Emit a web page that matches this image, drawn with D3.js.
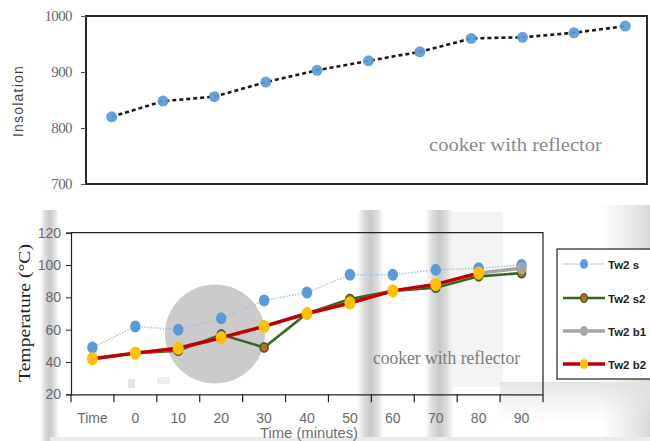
<!DOCTYPE html>
<html>
<head>
<meta charset="utf-8">
<script src="https://cdn.jsdelivr.net/npm/d3@7"></script>
<style>
  html, body { margin: 0; padding: 0; background: #fff; }
  svg { display: block; }
</style>
</head>
<body>
<svg id="chart" width="650" height="441"></svg>
<script>
// Time categories shared by both panels
const categories = ["Time", "0", "10", "20", "30", "40", "50", "60", "70", "80", "90"];

// Upper panel: solar insolation
const insolation = [820, 848, 856, 882, 903, 920, 936, 960, 962, 970, 982];
const insolationTicks = [700, 800, 900, 1000];

// Lower panel: water temperatures (°C)
const tw2s  = [49, 62, 60, 67, 78, 83, 94, 94, 97, 98, 100];
const tw2s2 = [42, 45.5, 47, 57, 49, 70, 79, 84, 86, 93, 95];
const tw2b1 = [42, 45.5, 48.5, 55, 62, 70, 76.5, 84, 88, 95, 98];
const tw2b2 = [42, 45.5, 48.5, 55, 62, 70, 76.5, 84, 88, 95, null];
const tempTicks = [20, 40, 60, 80, 100, 120];

const seriesNames = ["Tw2 s", "Tw2 s2", "Tw2 b1", "Tw2 b2"];

const svg = d3.select("#chart");

// ---------- scan haze (soft vertical grey stripes) ----------
const defs = svg.append("defs");
const grad = defs.append("linearGradient").attr("id", "stripe").attr("x1", 0).attr("x2", 1).attr("y1", 0).attr("y2", 0);
grad.append("stop").attr("offset", "0%").attr("stop-color", "#d8d8d8").attr("stop-opacity", 0);
grad.append("stop").attr("offset", "25%").attr("stop-color", "#d0d0d0").attr("stop-opacity", 0.75);
grad.append("stop").attr("offset", "50%").attr("stop-color", "#c6c6c6").attr("stop-opacity", 0.95);
grad.append("stop").attr("offset", "75%").attr("stop-color", "#d0d0d0").attr("stop-opacity", 0.75);
grad.append("stop").attr("offset", "100%").attr("stop-color", "#d8d8d8").attr("stop-opacity", 0);
const edge = defs.append("linearGradient").attr("id", "edge").attr("x1", 0).attr("x2", 1).attr("y1", 0).attr("y2", 0);
edge.append("stop").attr("offset", "0%").attr("stop-color", "#e2e2e2").attr("stop-opacity", 0);
edge.append("stop").attr("offset", "100%").attr("stop-color", "#d6d6d6").attr("stop-opacity", 0.95);
const fadeDown = defs.append("linearGradient").attr("id", "fadeDown").attr("x1", 0).attr("x2", 0).attr("y1", 0).attr("y2", 1);
fadeDown.append("stop").attr("offset", "0%").attr("stop-color", "#e0e0e0").attr("stop-opacity", 0.9);
fadeDown.append("stop").attr("offset", "100%").attr("stop-color", "#eeeeee").attr("stop-opacity", 0);

const haze = svg.append("g");
[[40, 19], [357, 27], [425, 29]].forEach(([hx, w]) => {
  haze.append("rect").attr("x", hx).attr("y", 210).attr("width", w).attr("height", 231).attr("fill", "url(#stripe)");
});
haze.append("rect").attr("x", 450).attr("y", 212).attr("width", 53).attr("height", 175).attr("fill", "#ededed").attr("opacity", 0.6);
haze.append("rect").attr("x", 600).attr("y", 205).attr("width", 50).attr("height", 236).attr("fill", "url(#edge)");
haze.append("rect").attr("x", 500).attr("y", 382).attr("width", 150).attr("height", 40).attr("fill", "url(#fadeDown)");
haze.append("rect").attr("x", 50).attr("y", 437).attr("width", 600).attr("height", 4).attr("fill", "#ebebeb");
haze.append("rect").attr("x", 128).attr("y", 379).attr("width", 7).attr("height", 9).attr("fill", "#e4e4e4");
haze.append("rect").attr("x", 157).attr("y", 377).attr("width", 13).attr("height", 7).attr("fill", "#ededed");

// ================= Upper panel =================
const topBox = { left: 86, right: 651, top: 16, bottom: 184 };
const xTop = d3.scaleBand().domain(categories).range([topBox.left, topBox.right]);
const yTop = d3.scaleLinear().domain([700, 1000]).range([topBox.bottom, topBox.top]);

const gTop = svg.append("g");
gTop.append("rect")
  .attr("x", topBox.left).attr("y", topBox.top)
  .attr("width", 647 - topBox.left).attr("height", topBox.bottom - topBox.top)
  .attr("fill", "none").attr("stroke", "#2a2a2a").attr("stroke-width", 2);

const yAxisTop = d3.axisLeft(yTop).tickValues(insolationTicks).tickFormat(d3.format("d")).tickSize(5).tickPadding(9);
gTop.append("g").attr("transform", `translate(${topBox.left},0)`).call(yAxisTop)
  .call(g => g.select(".domain").remove())
  .call(g => g.selectAll(".tick line").attr("stroke", "#555"))
  .call(g => g.selectAll(".tick text").attr("fill", "#6a6a6a")
    .attr("font-family", "'Liberation Serif', serif").attr("font-size", 15).attr("letter-spacing", -0.6));

gTop.append("text")
  .attr("transform", "translate(23,101) rotate(-90)")
  .attr("text-anchor", "middle")
  .attr("font-family", "'Liberation Sans', Arial, sans-serif")
  .attr("font-size", 14).attr("letter-spacing", 1.2)
  .attr("fill", "#444").text("Insolation");

gTop.append("text")
  .attr("x", 429).attr("y", 151)
  .attr("font-family", "'Liberation Serif', serif").attr("font-size", 18)
  .attr("textLength", 173).attr("lengthAdjust", "spacingAndGlyphs")
  .attr("fill", "#8a8a8a").text("cooker with reflector");

const lineTop = d3.line().x((d, i) => xTop(categories[i]) + xTop.bandwidth() / 2).y(d => yTop(d));
gTop.append("path").datum(insolation).attr("d", lineTop)
  .attr("fill", "none").attr("stroke", "#1a1a1a").attr("stroke-width", 2.6).attr("stroke-dasharray", "4,3");
gTop.selectAll("circle.ins").data(insolation).join("circle")
  .attr("cx", (d, i) => xTop(categories[i]) + xTop.bandwidth() / 2)
  .attr("cy", d => yTop(d)).attr("r", 5.5)
  .attr("fill", "#5b9bd5").attr("opacity", 0.92);

// ================= Lower panel =================
const botBox = { left: 71, right: 543, top: 232.7, bottom: 394.3 };
const x = d3.scaleBand().domain(categories).range([botBox.left, botBox.right]);
const y = d3.scaleLinear().domain([20, 120]).range([botBox.bottom, botBox.top]);
const cx = c => x(c) + x.bandwidth() / 2;

// grey disc behind the early readings
svg.append("ellipse").attr("cx", 215).attr("cy", 334).attr("rx", 50).attr("ry", 49.5).attr("fill", "#cbcbcb");

const gBot = svg.append("g");
// frame top and right
gBot.append("path")
  .attr("d", `M${botBox.left},${botBox.top}H${botBox.right}V${botBox.bottom}`)
  .attr("fill", "none").attr("stroke", "#222").attr("stroke-width", 1.2);

const yAxis = d3.axisLeft(y).tickValues(tempTicks).tickSize(5).tickPadding(5);
gBot.append("g").attr("transform", `translate(${botBox.left},0)`).call(yAxis)
  .call(g => g.select(".domain").attr("stroke", "#222").attr("stroke-width", 1.2))
  .call(g => g.selectAll(".tick line").attr("stroke", "#222"))
  .call(g => g.selectAll(".tick text").attr("fill", "#6a6a6a")
    .attr("font-family", "'Liberation Sans Narrow', 'Liberation Sans', sans-serif").attr("font-size", 14));

// category axis with ticks on band boundaries
const xAxis = d3.axisBottom(x).tickSize(0).tickPadding(19);
const gx = gBot.append("g").attr("transform", `translate(0,${botBox.bottom})`).call(xAxis);
gx.select(".domain").attr("stroke", "#222").attr("stroke-width", 1.2);
gx.selectAll(".tick text").attr("fill", "#6a6a6a")
  .attr("font-family", "'Liberation Sans Narrow', 'Liberation Sans', sans-serif").attr("font-size", 14);
gx.selectAll("line.bound").data(categories.concat(["end"])).join("line").attr("class", "bound")
  .attr("x1", (d, i) => botBox.left + i * x.step()).attr("x2", (d, i) => botBox.left + i * x.step())
  .attr("y1", 0).attr("y2", 8).attr("stroke", "#222").attr("stroke-width", 1.2);

gBot.append("text")
  .attr("transform", "translate(30,313) rotate(-90)")
  .attr("text-anchor", "middle")
  .attr("font-family", "'Liberation Serif', serif").attr("font-size", 17)
  .attr("textLength", 138).attr("lengthAdjust", "spacingAndGlyphs")
  .attr("fill", "#222").text("Temperature (°C)");

gBot.append("text")
  .attr("x", 260).attr("y", 438)
  .attr("font-family", "'Liberation Sans Narrow', 'Liberation Sans', sans-serif").attr("font-size", 15)
  .attr("textLength", 98).attr("lengthAdjust", "spacingAndGlyphs")
  .attr("fill", "#707070").text("Time (minutes)");

gBot.append("text")
  .attr("x", 373).attr("y", 364)
  .attr("font-family", "'Liberation Serif', serif").attr("font-size", 18)
  .attr("textLength", 147).attr("lengthAdjust", "spacingAndGlyphs")
  .attr("fill", "#7c7c7c").text("cooker with reflector");

const series = [
  { name: seriesNames[0], values: tw2s,  line: "#9dc3e6", width: 1.4, dash: "1.5,1.5", fill: "#5b9bd5", stroke: "none", rx: 5.2, ry: 6 },
  { name: seriesNames[1], values: tw2s2, line: "#3b6526", width: 2.6, dash: null, fill: "#c0672a", stroke: "#3b6526", rx: 4, ry: 4.6 },
  { name: seriesNames[2], values: tw2b1, line: "#a5a5a5", width: 3.4, dash: null, fill: "#a5a5a5", stroke: "none", rx: 5.2, ry: 6 },
  { name: seriesNames[3], values: tw2b2, line: "#c00000", width: 3.4, dash: null, fill: "#ffc000", stroke: "none", rx: 5.5, ry: 6.5 }
];

const line = d3.line().defined(d => d != null).x((d, i) => cx(categories[i])).y(d => y(d));
series.forEach(s => {
  const g = gBot.append("g");
  g.append("path").datum(s.values).attr("d", line)
    .attr("fill", "none").attr("stroke", s.line).attr("stroke-width", s.width)
    .attr("stroke-dasharray", s.dash);
  g.selectAll("ellipse").data(s.values.map((v, i) => ({ v, c: categories[i] })).filter(d => d.v != null)).join("ellipse")
    .attr("cx", d => cx(d.c)).attr("cy", d => y(d.v))
    .attr("rx", s.rx).attr("ry", s.ry)
    .attr("fill", s.fill).attr("stroke", s.stroke).attr("stroke-width", 1.6);
});

// legend
const lg = svg.append("g");
lg.append("rect").attr("x", 557).attr("y", 249).attr("width", 100).attr("height", 130)
  .attr("fill", "#fff").attr("stroke", "#222").attr("stroke-width", 1.2);
const legendY = [264, 298, 331, 364];
series.forEach((s, i) => {
  const yy = legendY[i];
  lg.append("line").attr("x1", 563).attr("x2", 605).attr("y1", yy).attr("y2", yy)
    .attr("stroke", s.line).attr("stroke-width", s.width).attr("stroke-dasharray", s.dash);
  lg.append("ellipse").attr("cx", 584).attr("cy", yy)
    .attr("rx", i === 1 ? 3.4 : 4).attr("ry", i === 1 ? 4.4 : 5)
    .attr("fill", s.fill).attr("stroke", s.stroke).attr("stroke-width", 1.4);
  lg.append("text").attr("x", 608).attr("y", yy + 4.5)
    .attr("font-family", "'Liberation Sans Narrow', 'Liberation Sans', sans-serif")
    .attr("font-size", 11.5).attr("font-weight", "bold").attr("fill", "#222")
    .text(s.name);
});
</script>
</body>
</html>
